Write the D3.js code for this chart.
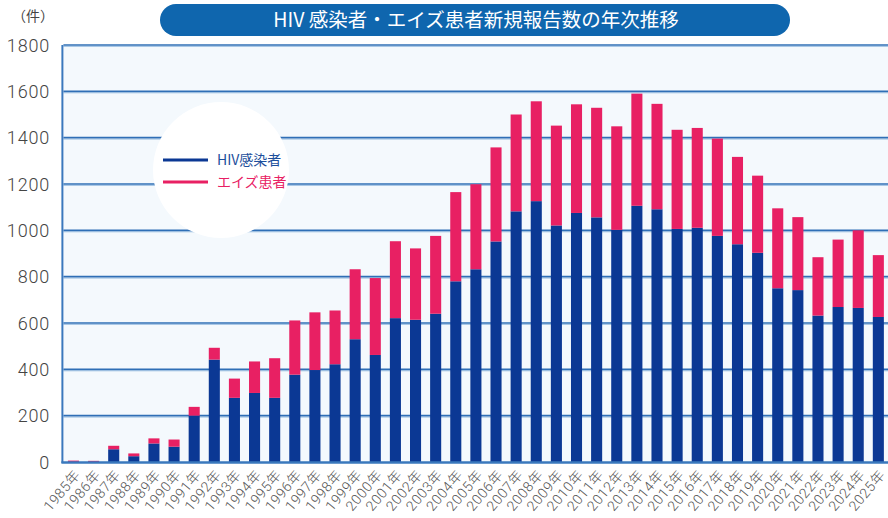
<!DOCTYPE html>
<html>
<head>
<meta charset="utf-8">
<script src="https://cdn.jsdelivr.net/npm/d3@7"></script>
<style>
  body { margin: 0; background: #fff; }
  svg { display: block; font-family: "Noto Sans CJK JP", "Noto Sans", sans-serif; }
</style>
</head>
<body>
<svg id="chart"></svg>
<script>
// data
const years = d3.range(1985, 2026).map(String)
const hiv = [0, 0, 55, 25, 80, 66, 200, 442, 277, 298, 277, 377, 397, 422, 530, 462, 621, 614, 640, 780,
  832, 952, 1082, 1126, 1021, 1075, 1056, 1002, 1106, 1091, 1006, 1011, 976, 940, 903, 750, 742, 632, 669, 665, 626]
const aids = [6, 5, 15, 12, 22, 31, 38, 51, 83, 136, 171, 234, 249, 232, 302, 332, 332, 308, 336, 385,
  367, 406, 418, 431, 431, 469, 473, 447, 484, 455, 428, 431, 420, 377, 333, 345, 315, 252, 291, 335, 267]
const yTicks = [0, 200, 400, 600, 800, 1000, 1200, 1400, 1600, 1800]
const seriesNames = ["HIV感染者", "エイズ患者"]
const colors = ["#0b3894", "#e82063"]

const W = 888, H = 518
const dim = {l: 63.4, r: 888.4, t: 45, b: 462}

const svg = d3.select("#chart").attr("width", W).attr("height", H)

// title pill
svg.append("rect")
  .attr("x", 160).attr("y", 4).attr("width", 630).attr("height", 32)
  .attr("rx", 16).attr("fill", "#0f66ae")
svg.append("text")
  .attr("x", 476).attr("y", 27)
  .attr("text-anchor", "middle")
  .attr("fill", "#fff")
  .attr("font-size", 19.5)
  .text("HIV 感染者・エイズ患者新規報告数の年次推移")

var x = d3.scaleBand()
  .domain(years)
  .range([dim.l, dim.r])
  .paddingInner(0.45)
  .paddingOuter(0.225)

var y = d3.scaleLinear()
  .domain([0, 1800])
  .range([dim.b, dim.t])

// plot background
svg.append("rect")
  .attr("x", dim.l).attr("y", dim.t)
  .attr("width", W - dim.l).attr("height", dim.b - dim.t)
  .attr("fill", "#f4f9fd")

// grid lines
const grid = svg.append("g")
grid.selectAll(".shadow")
  .data(yTicks.filter(d => d > 0))
  .join("line")
  .attr("x1", dim.l).attr("x2", W)
  .attr("y1", d => y(d) + 1.5).attr("y2", d => y(d) + 1.5)
  .attr("stroke", "#a9c8e6").attr("stroke-width", 1)
grid.selectAll(".main")
  .data(yTicks.filter(d => d > 0))
  .join("line")
  .attr("x1", dim.l).attr("x2", W)
  .attr("y1", d => y(d)).attr("y2", d => y(d))
  .attr("stroke", "#2f6fb6").attr("stroke-width", 1.6)

// legend circle (covers grid)
svg.append("circle")
  .attr("cx", 221).attr("cy", 170).attr("r", 68)
  .attr("fill", "#fff")

// stacked bars
const stacked = years.map((yr, i) => ({year: yr, hiv: hiv[i], aids: aids[i]}))
const stack = d3.stack().keys(["hiv", "aids"])(stacked)

svg.append("g").selectAll("g")
  .data(stack)
  .join("g")
  .attr("fill", (d, i) => colors[i])
  .selectAll("rect")
  .data(d => d)
  .join("rect")
  .attr("x", d => x(d.data.year))
  .attr("y", d => y(d[1]))
  .attr("width", x.bandwidth())
  .attr("height", d => y(d[0]) - y(d[1]))

// left & bottom axis lines
svg.append("line")
  .attr("x1", dim.l - 1).attr("x2", dim.l - 1)
  .attr("y1", dim.t).attr("y2", dim.b + 1)
  .attr("stroke", "#3a78bd").attr("stroke-width", 2)
svg.append("line")
  .attr("x1", dim.l - 2).attr("x2", W)
  .attr("y1", dim.b + 0.5).attr("y2", dim.b + 0.5)
  .attr("stroke", "#3a78bd").attr("stroke-width", 2.5)

// y tick labels
svg.append("g").selectAll("text")
  .data(yTicks)
  .join("text")
  .attr("x", 50)
  .attr("y", d => y(d) + 6.5)
  .attr("text-anchor", "end")
  .attr("fill", "#444")
  .attr("font-size", 18)
  .attr("letter-spacing", 0.8)
  .attr("font-family", "Roboto, 'Noto Sans', sans-serif")
  .attr("font-weight", 300)
  .text(d => d)

svg.append("text")
  .attr("x", 12).attr("y", 21)
  .attr("fill", "#444")
  .attr("font-size", 14)
  .text("（件）")

// x labels
svg.append("g").selectAll("text")
  .data(years)
  .join("text")
  .attr("transform", d => "translate(" + (x(d) + x.bandwidth() / 2 + 4) + "," + (dim.b + 10) + ")rotate(-50)")
  .attr("text-anchor", "end")
  .attr("dy", "0.35em")
  .attr("fill", "#555")
  .attr("font-size", 14)
  .attr("letter-spacing", 0.6)
  .attr("font-family", "Roboto, 'Noto Sans CJK JP', sans-serif")
  .attr("font-weight", 300)
  .text(d => d + "年")

// legend
const legend = svg.append("g").selectAll("g")
  .data(seriesNames)
  .join("g")
  .attr("transform", (d, i) => "translate(163," + (160 + i * 22) + ")")
legend.append("line")
  .attr("x1", 0).attr("x2", 45)
  .attr("stroke", (d, i) => colors[i])
  .attr("stroke-width", 3)
legend.append("text")
  .attr("x", 54).attr("y", 5)
  .attr("font-size", 14)
  .attr("fill", (d, i) => i == 0 ? "#1d4f9c" : "#e82063")
  .text(d => d)
</script>
</body>
</html>
